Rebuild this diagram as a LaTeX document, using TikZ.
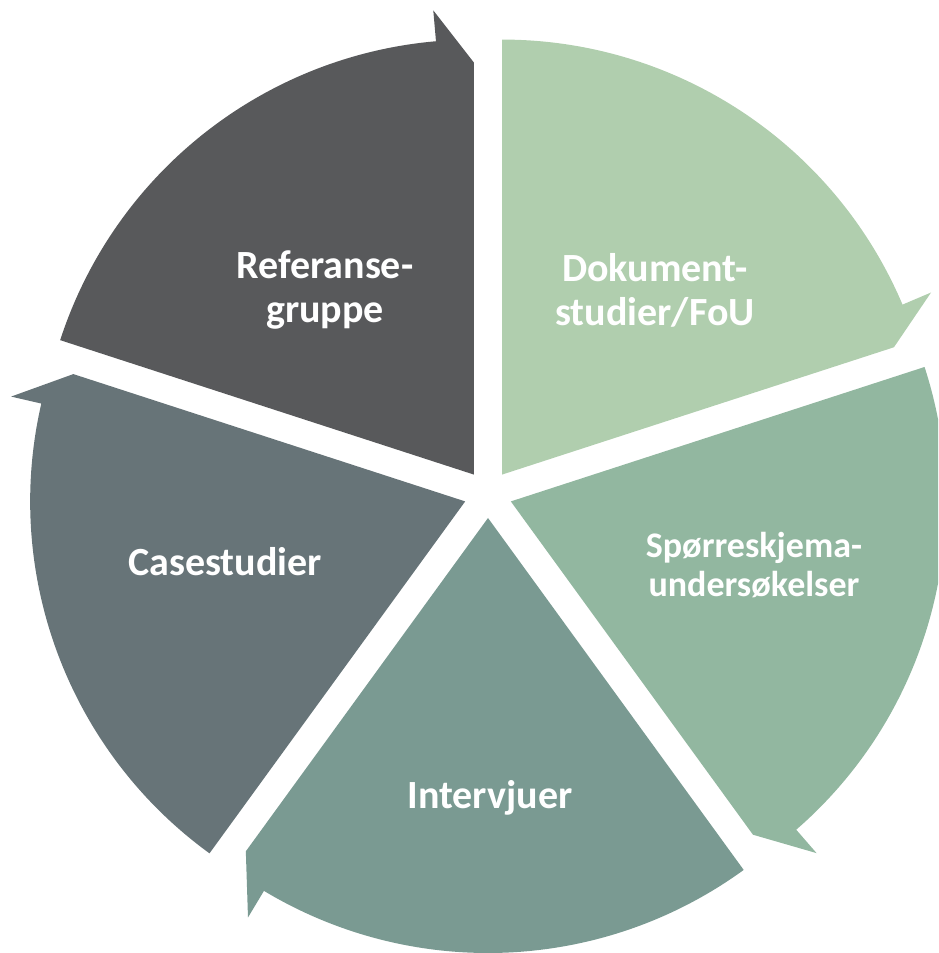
\documentclass[tikz,border=0pt]{standalone}
\usepackage{fontspec}
\setmainfont{Carlito}
\usetikzlibrary{calc}
\definecolor{cDok}{HTML}{B0CEAE}
\definecolor{cSpo}{HTML}{92B7A0}
\definecolor{cInt}{HTML}{7A9A92}
\definecolor{cCas}{HTML}{677478}
\definecolor{cRef}{HTML}{58595B}
\tikzset{
  lbl/.style={text=white, align=center, font=\bfseries\fontsize{40}{44}\selectfont, inner sep=0pt},
  lblsmall/.style={lbl, font=\bfseries\fontsize{36}{39}\selectfont},
}
% segment: name, start angle, colour
\newcommand{\cycseg}[3]{%
  \pgfmathsetmacro{\segend}{#2-72}%
  \pgfmathsetmacro{\segbis}{#2-36}%
  \pgfmathsetmacro{\segarr}{#2-67}%
  \coordinate (#1-apex) at ($(C)+(\segbis:24pt)$);
  \fill[#3] (#1-apex) -- ($(#1-apex)+(#2:435pt)$)
    arc[start angle=#2, end angle=\segarr, radius=435pt]
    -- ($(#1-apex)+(\segarr:466pt)$)
    -- ($(#1-apex)+(\segend:412pt)$) -- cycle;
}
\begin{document}
\begin{tikzpicture}[x=1pt,y=1pt]
\useasboundingbox (0,0) rectangle (938,953);
\clip (0,0) rectangle (938,953);
\coordinate (C) at (488,459);
\cycseg{dok}{90}{cDok}
\cycseg{spo}{18}{cSpo}
\cycseg{int}{-54}{cInt}
\cycseg{cas}{-126}{cCas}
\cycseg{ref}{162}{cRef}
\node[lbl] (tref) at (325,663) {Referanse-\\gruppe};
\node[lbl] (tdok) at (655,663) {Dokument-\\studier/FoU};
\node[lblsmall] (tspo) at (754,388) {Spørreskjema-\\undersøkelser};
\node[lbl] (tcas) at (225,391) {Casestudier};
\node[lbl] (tint) at (490,155) {Intervjuer};
\end{tikzpicture}
\end{document}
